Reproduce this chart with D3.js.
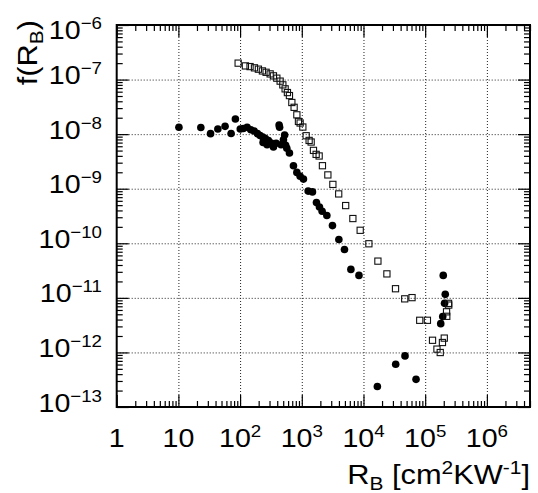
<!DOCTYPE html>
<html><head><meta charset="utf-8">
<script src="https://cdn.jsdelivr.net/npm/d3@7"></script>
<style>body{margin:0;background:#fff} text{font-family:"Liberation Sans",Arial,Helvetica,sans-serif;fill:#000}</style>
</head><body><svg id="c" width="538" height="493"></svg>
<script>
// ---- data ----
const xOpen = [93,122,145,171,198,230,264,307,347,394,446,493,537,585,631,690,751,832,883,940,1040,1177,1315,1418,1546,1709,1911,2161,2646,3190,3965,5144,6730,8840,12230,17130,23970,33050,46600,61200,81600,108700,131500,155200,175400,190500,203900,223800,222000,240900,239300];
const yOpen = [2.0e-7,1.78e-7,1.73e-7,1.64e-7,1.55e-7,1.44e-7,1.36e-7,1.27e-7,1.17e-7,1.06e-7,9.36e-8,8.0e-8,6.76e-8,5.78e-8,5.09e-8,3.8e-8,3.1e-8,2.26e-8,1.71e-8,1.6e-8,1.35e-8,9.35e-9,7.67e-9,7.17e-9,5.04e-9,4.26e-9,3.98e-9,2.64e-9,1.79e-9,1.2e-9,8.03e-10,4.91e-10,2.84e-10,1.73e-10,9.8e-11,4.71e-11,2.75e-11,1.47e-11,9.59e-12,1.01e-11,3.88e-12,3.88e-12,1.67e-12,1.15e-12,9.96e-13,1.52e-12,1.83e-12,4.59e-12,5.55e-12,7.38e-12,7.93e-12];
const xFilled = [10.2,23.1,33.2,43.6,57.1,71.5,83.9,100.7,113,130,149,169,191,211,233,236,257,274,288,318,347,384,429,437,462,504,527,547,572,631,733,832,940,1064,1268,1489,1729,1934,2138,2549,3142,3990,4920,6250,8450,16790,33270,47100,71100,178700,192600,206000,211500,196300];
const yFilled = [1.34e-8,1.32e-8,1.02e-8,1.24e-8,1.39e-8,1.03e-8,1.9e-8,1.24e-8,1.27e-8,1.34e-8,1.2e-8,1.14e-8,1.02e-8,9.47e-9,8.85e-9,7.06e-9,8.34e-9,6.4e-9,7.67e-9,6.88e-9,5.81e-9,6.82e-9,1.47e-8,1.34e-8,6.4e-9,7.9e-9,9.66e-9,6.27e-9,5.52e-9,4.51e-9,2.64e-9,1.99e-9,1.69e-9,1.5e-9,9.04e-10,8.74e-10,5.57e-10,4.61e-10,3.86e-10,3.22e-10,2.11e-10,1.17e-10,7.7e-11,3.32e-11,2.58e-11,2.38e-13,6.08e-13,8.63e-13,3.21e-13,3.37e-12,4.53e-12,7.93e-12,1.16e-11,2.58e-11];
const xExponents = [0,1,2,3,4,5,6];
const yExponents = [-6,-7,-8,-9,-10,-11,-12,-13];
const xTitle = {base:"R", sub:"B", rest:" [cm", sup1:"2", mid:"KW", sup2:"-1", end:"]"};
const yTitle = {base:"f(R", sub:"B", end:")"};

// ---- layout ----
const L=116.7, R=530, T=25, B=407;
const svg = d3.select("#c");
const x = d3.scaleLog().domain([1,5e6]).range([L,R]);
const y = d3.scaleLog().domain([1e-13,1e-6]).range([B,T]);

const xMajor = xExponents.map(n=>Math.pow(10,n));
const xMinor = [];
xExponents.forEach(n=>{for(let k=2;k<=9;k++){const v=k*Math.pow(10,n); if(v<=5e6) xMinor.push(v);}});
const yMajor = yExponents.map(n=>Math.pow(10,n));
const yMinor = [];
yExponents.slice(1).forEach(n=>{for(let k=2;k<=9;k++) yMinor.push(k*Math.pow(10,n));});

// grid
const gx = svg.append("g").attr("transform",`translate(0,${B})`)
  .call(d3.axisBottom(x).tickValues(xMajor.filter(v=>v>1)).tickSize(-(B-T)).tickFormat(""));
const gy = svg.append("g").attr("transform",`translate(${L},0)`)
  .call(d3.axisLeft(y).tickValues(yMajor.filter(v=>v>1e-13&&v<1e-6)).tickSize(-(R-L)).tickFormat(""));
[gx,gy].forEach(g=>{g.select(".domain").remove();
  g.selectAll("line").attr("stroke","#222").attr("stroke-width",1).attr("stroke-dasharray","1,2");});

// ticks on all four sides
function ticks(gen, tr, vals, size){
  const g = svg.append("g").attr("transform",tr)
    .call(gen.tickValues(vals).tickSizeInner(size).tickSizeOuter(0).tickFormat(""));
  g.select(".domain").remove();
  g.selectAll("line").attr("stroke","#000").attr("stroke-width",1.2);
}
ticks(d3.axisBottom(x), `translate(0,${B})`, xMajor, -12);
ticks(d3.axisBottom(x), `translate(0,${B})`, xMinor, -6);
ticks(d3.axisTop(x), `translate(0,${T})`, xMajor, -12);
ticks(d3.axisTop(x), `translate(0,${T})`, xMinor, -6);
ticks(d3.axisLeft(y), `translate(${L},0)`, yMajor, -12);
ticks(d3.axisLeft(y), `translate(${L},0)`, yMinor, -6);
ticks(d3.axisRight(y), `translate(${R},0)`, yMajor, -12);
ticks(d3.axisRight(y), `translate(${R},0)`, yMinor, -6);

// frame
svg.append("rect").attr("x",L).attr("y",T).attr("width",R-L).attr("height",B-T)
  .attr("fill","none").attr("stroke","#000").attr("stroke-width",2);

// data: filled circles
svg.append("g").selectAll("circle").data(xFilled.map((v,i)=>[v,yFilled[i]])).join("circle")
  .attr("cx",d=>x(d[0])).attr("cy",d=>y(d[1])).attr("r",3.8).attr("fill","#000");
// open squares
const s=6.2;
svg.append("g").selectAll("rect").data(xOpen.map((v,i)=>[v,yOpen[i]])).join("rect")
  .attr("x",d=>x(d[0])-s/2).attr("y",d=>y(d[1])-s/2).attr("width",s).attr("height",s)
  .attr("fill","none").attr("stroke","#111").attr("stroke-width",1.1);

// text helper: slightly widened glyphs
const SX=1.1;
function txt(px, py, anchor, size, rot){
  return svg.append("text")
    .attr("transform",`translate(${px},${py})${rot?` rotate(${rot})`:""} scale(${SX},1)`)
    .attr("text-anchor",anchor).attr("font-size",size);
}

// x tick labels
const LF=26, SF=17;
xExponents.forEach(n=>{
  const t = txt(x(Math.pow(10,n)), 447, "middle", LF);
  if(n===0) t.text("1");
  else if(n===1) t.text("10");
  else { t.append("tspan").text("10"); t.append("tspan").attr("font-size",SF).attr("dy",-10).text(String(n)); }
});
// y tick labels
yExponents.forEach(n=>{
  const off = n===-6 ? 14 : 4.5;
  const t = txt(102, y(Math.pow(10,n))+off, "end", LF);
  t.append("tspan").text("10");
  t.append("tspan").attr("font-size",SF).attr("dy",-10).text("\u2212"+Math.abs(n));
});

// axis titles
const TF=28, TS=19;
const xt = txt(530, 484, "end", TF);
xt.append("tspan").text(xTitle.base);
xt.append("tspan").attr("font-size",TS).attr("dy",6).text(xTitle.sub);
xt.append("tspan").attr("dy",-6).text(xTitle.rest);
xt.append("tspan").attr("font-size",TS).attr("dy",-10).text(xTitle.sup1);
xt.append("tspan").attr("dy",10).text(xTitle.mid);
xt.append("tspan").attr("font-size",TS).attr("dy",-10).text(xTitle.sup2);
xt.append("tspan").attr("dy",10).text(xTitle.end);

const yt = txt(37, 20, "end", TF, -90);
yt.append("tspan").text(yTitle.base);
yt.append("tspan").attr("font-size",TS).attr("dy",6).text(yTitle.sub);
yt.append("tspan").attr("dy",-6).text(yTitle.end);
</script></body></html>
